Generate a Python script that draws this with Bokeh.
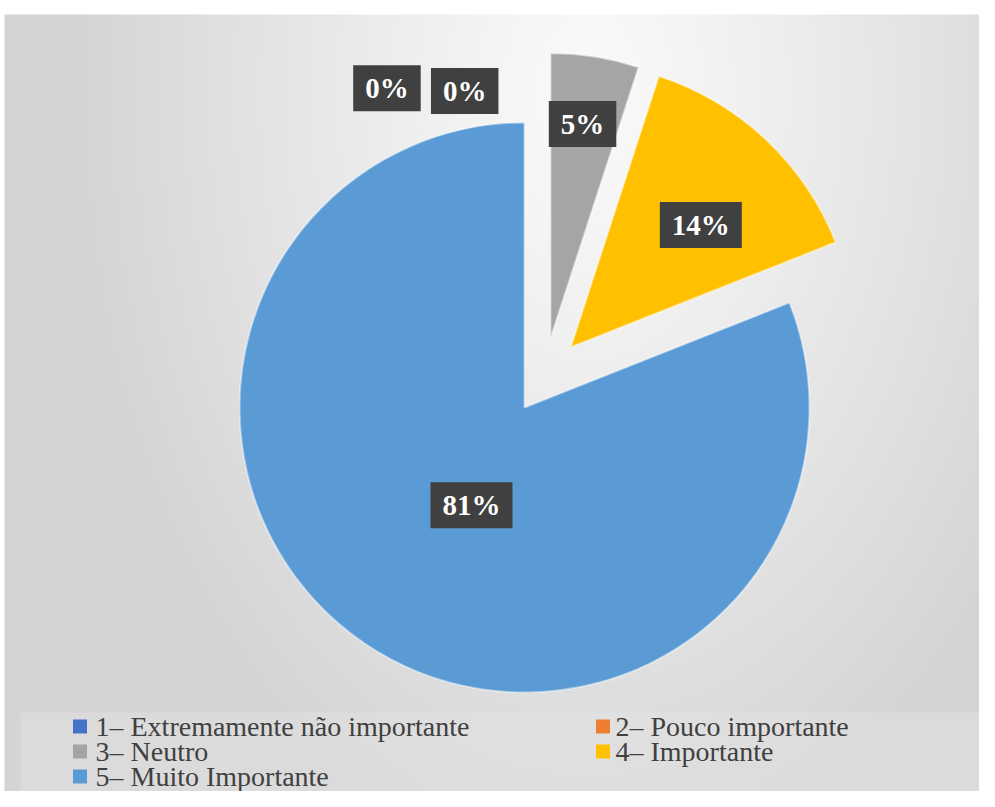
import numpy as np
from bokeh.plotting import figure
from bokeh.models import Range1d, ColumnDataSource
from bokeh.embed import file_html
from bokeh.resources import INLINE
from bokeh.core.properties import value

# ---------------- data ----------------
categories = ["1– Extremamente não importante", "2– Pouco importante",
              "3– Neutro", "4– Importante", "5– Muito Importante"]
percentages = [0, 0, 5, 14, 81]
colors = ["#4472C4", "#ED7D31", "#A5A5A5", "#FFC000", "#5B9BD5"]

# ---------------- style / layout ----------------
W, H = 979, 791            # figure size
REF_H = 807                # reference canvas height
CX, CY_REF = 524, 407      # pie centre (reference pixels)
R = 285                    # pie radius
explode = [0, 0, 74, 76, 0]
explode_dir_shift = [0, 0, 11.6, -5.7, 0]
label_frac = [1.22, 1.13, 0.76, 0.626, 0.39]
label_shift_deg = [-23.3, -10.7, -0.5, 3.6, -5.7]
legend_sq_x = [79.5, 602.5]
legend_txt_x = [95, 615]
legend_row_y = [726, 751, 776]
SERIF = "Liberation Serif"


def ry(y):
    return REF_H - y


CY = ry(CY_REF)

p = figure(width=W, height=H, output_backend="svg", toolbar_location=None,
           x_range=Range1d(0, W), y_range=Range1d(REF_H - H, REF_H),
           min_border=0, outline_line_color=None)
p.axis.visible = False
p.grid.visible = False
p.background_fill_color = "white"
p.border_fill_color = "white"

# ---------------- background gradient ----------------
step = 2
xs = np.arange(0, W, step) + step / 2.0
ys_data = np.arange(REF_H - H, REF_H, step) + step / 2.0
X, Yd = np.meshgrid(xs, ys_data)
Yref = REF_H - Yd
t = np.sqrt(((X - 590) / 520.0) ** 2 + ((Yref - 90) / 800.0) ** 2)
t = np.clip(t, 0, 1)
g = 250 - (250 - 212) * t ** 1.15
g = np.where((Yref < 14) | (X < 5), 255, g)
img = np.zeros(X.shape, dtype=np.uint32)
view = img.view(dtype=np.uint8).reshape(X.shape + (4,))
gi = g.astype(np.uint8)
view[:, :, 0] = gi
view[:, :, 1] = gi
view[:, :, 2] = gi
view[:, :, 3] = 255
p.image_rgba(image=[img], x=0, y=REF_H - H, dw=W, dh=H)

# legend background panel
p.quad(left=20, right=W, top=ry(712), bottom=ry(REF_H), fill_color="#e8e8e8",
       fill_alpha=0.35, line_color=None)

# ---------------- pie ----------------
total = float(sum(percentages))
cum = np.cumsum([0] + percentages) / total * 360.0
wx, wy, sa, ea, wc = [], [], [], [], []
lx, ly, lt = [], [], []
for i, v in enumerate(percentages):
    a0, a1 = cum[i], cum[i + 1]
    mid = np.radians((a0 + a1) / 2.0)
    ed = mid + np.radians(explode_dir_shift[i])
    cx = CX + explode[i] * np.sin(ed)
    cy = CY + explode[i] * np.cos(ed)
    if v > 0:
        wx.append(cx)
        wy.append(cy)
        sa.append(np.pi / 2 - np.radians(a0))
        ea.append(np.pi / 2 - np.radians(a1))
        wc.append(colors[i])
    la = mid + np.radians(label_shift_deg[i])
    lx.append(cx + label_frac[i] * R * np.sin(la))
    ly.append(cy + label_frac[i] * R * np.cos(la))
    lt.append(f"{v}%")

wsrc = ColumnDataSource(dict(x=wx, y=wy, start=sa, end=ea, color=wc))
p.wedge(x="x", y="y", radius=R, start_angle="start", end_angle="end",
        direction="clock", fill_color="color", line_color="white", line_alpha=0.45,
        line_width=2, source=wsrc)

lsrc = ColumnDataSource(dict(x=lx, y=ly, text=lt))
p.text(x="x", y="y", text="text", source=lsrc, text_align="center",
       text_baseline="middle", text_color="white", text_font=value(SERIF),
       text_font_style="bold", text_font_size="29px",
       background_fill_color="#404040", padding=(12, 7))

# ---------------- legend ----------------
gx, gy, gtx, gc = [], [], [], []
for i, name in enumerate(categories):
    col, row = i % 2, i // 2
    gx.append(legend_sq_x[col])
    gtx.append(legend_txt_x[col])
    gy.append(ry(legend_row_y[row]))
    gc.append(colors[i])
gsrc = ColumnDataSource(dict(x=gx, tx=gtx, y=gy, c=gc, name=categories))
p.rect(x="x", y="y", width=14, height=14, width_units="screen", height_units="screen",
       fill_color="c", line_color=None, source=gsrc)
p.text(x="tx", y="y", text="name", source=gsrc, text_align="left",
       text_baseline="middle", text_color="#404040", text_font=value(SERIF),
       text_font_size="28px")

open("out.html", "w").write(file_html(p, INLINE))
